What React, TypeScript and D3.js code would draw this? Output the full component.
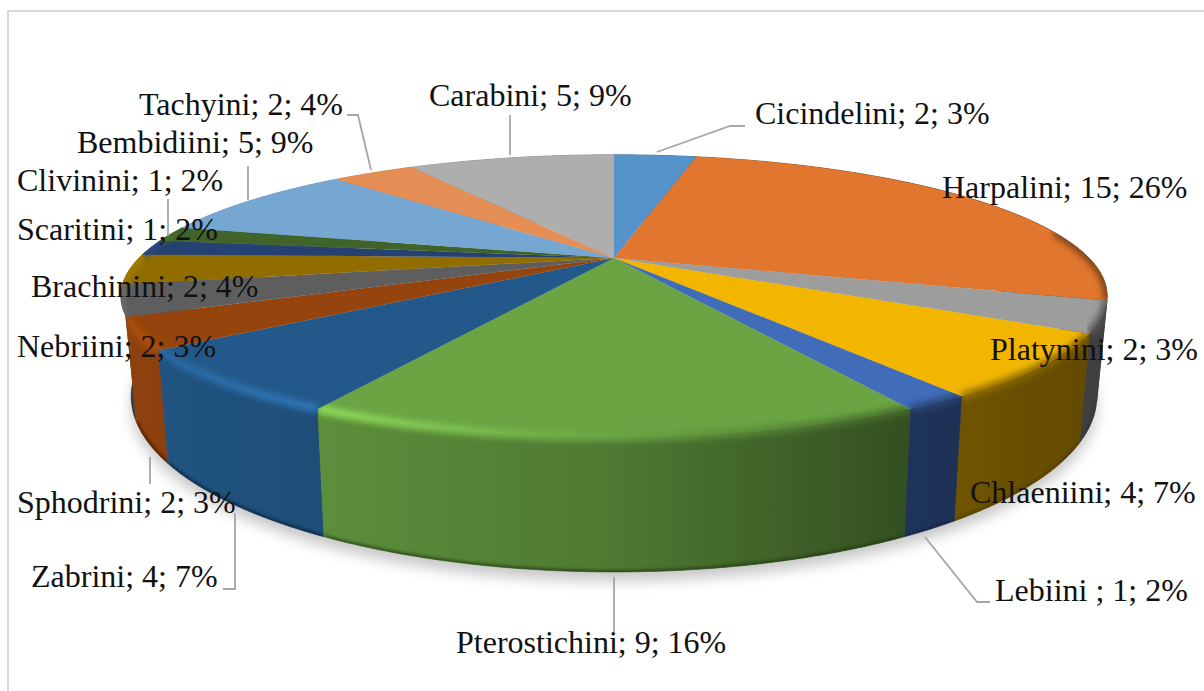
import React from 'react';
import * as d3 from 'd3';

const width = 1204;
const height = 691;

// tribes, clockwise from 12 o'clock
const tribes = ['Cicindelini', 'Harpalini', 'Platynini', 'Chlaeniini', 'Lebiini', 'Pterostichini', 'Zabrini', 'Sphodrini', 'Nebriini', 'Brachinini', 'Scaritini', 'Clivinini', 'Bembidiini', 'Tachyini', 'Carabini'];
const counts = [2, 15, 2, 4, 1, 9, 4, 2, 2, 2, 1, 1, 5, 2, 5];
const percents = [3, 26, 3, 7, 2, 16, 7, 3, 3, 4, 2, 2, 9, 4, 9];
const colors = ['#5B9BD5', '#ED7D31', '#A5A5A5', '#FFC000', '#4472C4', '#70AD47', '#255E91', '#9E480E', '#636363', '#997300', '#264478', '#43682B', '#7CAFDD', '#F1975A', '#B7B7B7'];

// label placement: left edge, baseline
const labelPos = [
  [755, 124], [942, 198], [990, 360], [970, 503], [995, 601],
  [456, 653], [31, 587], [17, 513], [17, 357], [31, 297],
  [17, 240], [17, 191], [77, 153], [139, 115], [429, 106],
];

const leaders = [
  [[657, 152], [730, 126], [745, 126]],
  [[347, 115], [358, 115], [371, 170]],
  [[510, 115], [510, 155]],
  [[248, 166], [248, 200]],
  [[168, 199], [168, 236]],
  [[150, 457], [150, 484]],
  [[235, 513], [235, 589], [223, 589]],
  [[614, 577], [614, 632]],
  [[925, 537], [977, 602], [990, 602]],
];

// perspective disc: top face and bottom face of the pie
const topFace = { cx: 614, cy: 258, rx: 475, ry: 131, k: 0.269 };
const bottomFace = { cx: 614, cy: 349, rx: 465, ry: 163, k: 0.269 };

type Face = typeof topFace;

function project(face: Face, a: number): [number, number] {
  const u = Math.sin(a);
  const v = Math.cos(a);
  const w = 1 + face.k * v;
  return [face.cx + (face.rx * u) / w, face.cy - (face.ry * v) / w];
}

function rim(face: Face, a0: number, a1: number) {
  const n = Math.max(2, Math.ceil(Math.abs(a1 - a0) / 0.01));
  return d3.range(n + 1).map(i => project(face, a0 + ((a1 - a0) * i) / n));
}

function shade(c: string, f: number) {
  const rgb = d3.rgb(c);
  return d3.rgb(Math.min(255, rgb.r * f), Math.min(255, rgb.g * f), Math.min(255, rgb.b * f)).formatHex();
}

const line = d3.line();
const closed = (pts: [number, number][]) => line(pts) + 'Z';

// side lighting falls off from left to right
const sideStops = [[0, 0.9], [0.5, 0.7], [0.8, 0.46], [1, 0.38]];
const bevelStops = [[0, 1.08], [0.2, 1.3], [0.5, 0.95], [0.8, 0.62], [1, 0.5]];
const x1 = 130;
const x2 = 1100;

export default function App() {
  const arcs = d3.pie<number>().sort(null).value(d => d)(counts);
  const center: [number, number] = [topFace.cx, topFace.cy];
  const sidePath = (d: d3.PieArcDatum<number>) =>
    closed([...rim(topFace, d.startAngle, d.endAngle), ...rim(bottomFace, d.endAngle, d.startAngle)]);
  const topPath = (d: d3.PieArcDatum<number>) => closed([center, ...rim(topFace, d.startAngle, d.endAngle)]);
  // only the front of the pie shows its edge
  const frontRange = (d: d3.PieArcDatum<number>) => [
    Math.max(d.startAngle, (78 * Math.PI) / 180),
    Math.min(d.endAngle, (282 * Math.PI) / 180),
  ];
  // sides are painted back to front so nearer slices cover farther ones
  const distance = (d: d3.PieArcDatum<number>) => Math.abs((d.startAngle + d.endAngle) / 2 - Math.PI);
  const backToFront = d3.range(arcs.length).sort((a, b) => distance(arcs[b]) - distance(arcs[a]));

  return (
    <svg width={width} height={height} viewBox={`0 0 ${width} ${height}`} style={{ position: 'absolute', left: 0, top: 0, background: '#fff' }}>
      <defs>
        <filter id="shadow" x="-10%" y="-10%" width="120%" height="130%"><feGaussianBlur stdDeviation="7" /></filter>
        <filter id="soft" x="-10%" y="-50%" width="120%" height="200%"><feGaussianBlur stdDeviation="3" /></filter>
        <filter id="soft2" x="-10%" y="-50%" width="120%" height="200%"><feGaussianBlur stdDeviation="1.5" /></filter>
        {colors.map((c, i) => (
          <linearGradient key={i} id={`side${i}`} gradientUnits="userSpaceOnUse" x1={x1} x2={x2} y1={0} y2={0}>
            {sideStops.map(([o, f]) => <stop key={o} offset={o} stopColor={shade(c, f)} />)}
          </linearGradient>
        ))}
        {colors.map((c, i) => (
          <linearGradient key={i} id={`bevel${i}`} gradientUnits="userSpaceOnUse" x1={x1} x2={x2} y1={0} y2={0}>
            {bevelStops.map(([o, f]) => <stop key={o} offset={o} stopColor={shade(c, f)} />)}
          </linearGradient>
        ))}
        {arcs.map((d, i) => (
          <clipPath key={i} id={`side-clip${i}`}><path d={sidePath(d)} /></clipPath>
        ))}
        {arcs.map((d, i) => (
          <clipPath key={i} id={`clip${i}`}><path d={topPath(d) + sidePath(d)} /></clipPath>
        ))}
      </defs>

      <rect x={8} y={11} width={1210} height={700} fill="#fff" stroke="#d9d9d9" strokeWidth={2} />

      <path d={closed(rim(bottomFace, 0, Math.PI * 2))} transform="translate(0,9)" fill="#000" opacity={0.22} filter="url(#shadow)" />

      {backToFront.map(i => {
        const d = arcs[i];
        const [a0, a1] = frontRange(d);
        return (
          <g key={i}>
            <path d={sidePath(d)} fill={`url(#side${i})`} stroke={`url(#side${i})`} strokeWidth={0.8} />
            {a1 > a0 && (
              <g clipPath={`url(#side-clip${i})`}>
                <path d={line(rim(bottomFace, a0, a1))!} fill="none" stroke={shade(colors[i], 0.3)} strokeWidth={4} filter="url(#soft2)" opacity={0.7} />
              </g>
            )}
          </g>
        );
      })}

      {arcs.map((d, i) => (
        <path key={i} d={topPath(d)} fill={shade(colors[i], 0.95)} />
      ))}

      {/* soft bevel on the front edge */}
      {backToFront.map(i => {
        const [a0, a1] = frontRange(arcs[i]);
        if (a1 <= a0) return null;
        return (
          <g key={i} clipPath={`url(#clip${i})`}>
            <path d={line(rim(topFace, a0, a1))!} fill="none" stroke={`url(#bevel${i})`} strokeWidth={8} filter="url(#soft)" />
          </g>
        );
      })}

      {leaders.map((pts, i) => (
        <path key={i} d={line(pts as [number, number][])!} fill="none" stroke="#a6a6a6" strokeWidth={1.8} />
      ))}

      {tribes.map((t, i) => (
        <text key={t} x={labelPos[i][0]} y={labelPos[i][1]} fontFamily="'Liberation Serif', serif" fontSize={32} fill="#111">
          {`${t}${t === 'Lebiini' ? ' ' : ''}; ${counts[i]}; ${percents[i]}%`}
        </text>
      ))}
    </svg>
  );
}
